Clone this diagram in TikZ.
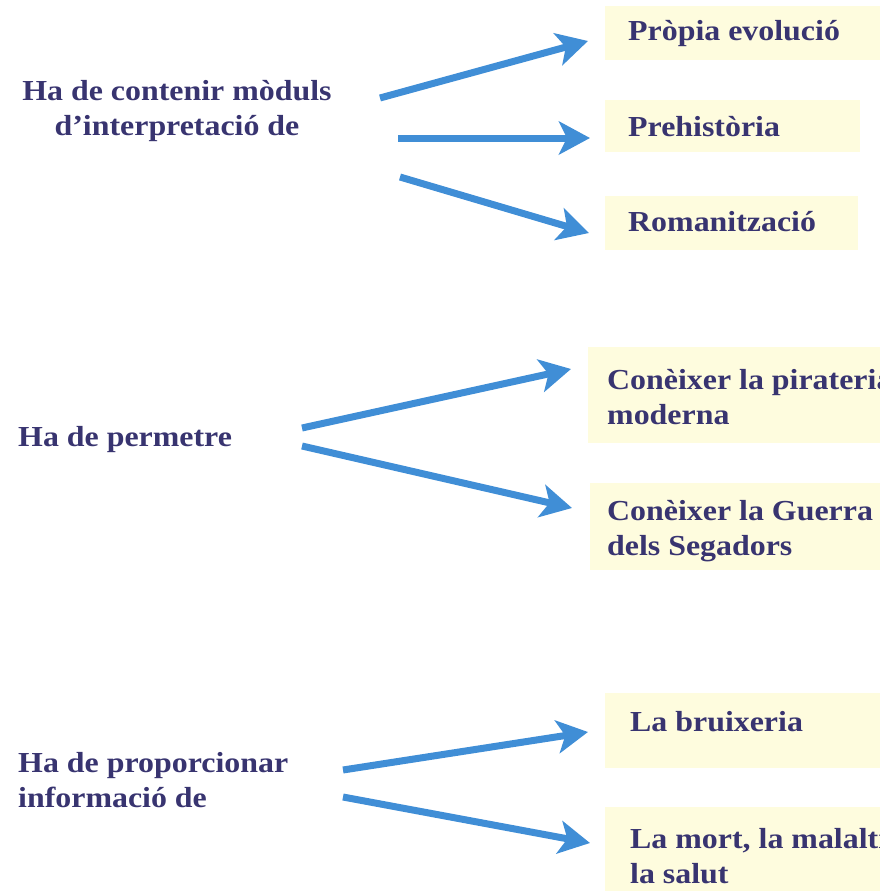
\documentclass[tikz,border=0pt]{standalone}
\usepackage{fontspec}
\setmainfont{Liberation Serif}[FakeStretch=1.1]
\usetikzlibrary{arrows.meta}
\definecolor{textblue}{RGB}{56,52,112}
\definecolor{arrowblue}{RGB}{64,142,214}
\definecolor{boxyellow}{RGB}{254,252,222}
\begin{document}
\begin{tikzpicture}[x=1pt,y=-1pt,
  ybox/.style={fill=boxyellow, draw=none},
  lbl/.style={text=textblue, font=\bfseries\fontsize{29}{35}\selectfont, inner sep=0pt, anchor=base west, align=left},
  clbl/.style={lbl, anchor=base, align=center},
  arr/.style={draw=arrowblue, line width=7pt, -{Stealth[length=31pt,width=33pt,inset=8pt]}}]
\useasboundingbox (0,0) rectangle (880,891);
\clip (0,0) rectangle (880,891);
% yellow boxes
\fill[ybox] (605,6) rectangle (880,60);
\fill[ybox] (605,100) rectangle (860,152);
\fill[ybox] (605,196) rectangle (858,250);
\fill[ybox] (588,347) rectangle (880,443);
\fill[ybox] (590,483) rectangle (880,570);
\fill[ybox] (605,693) rectangle (880,768);
\fill[ybox] (605,807) rectangle (880,891);
% texts (base anchor = baseline of the last line)
\node[clbl] (g1) at (177,135) {Ha de contenir mòduls\\d’interpretació de};
\node[lbl] (r1) at (628,41) {Pròpia evolució};
\node[lbl] (r2) at (628,136) {Prehistòria};
\node[lbl] (r3) at (628,231) {Romanització};
\node[lbl] (g2) at (18,446) {Ha de permetre};
\node[lbl] (r4) at (607,424) {Conèixer la pirateria\\moderna};
\node[lbl] (r5) at (607,555) {Conèixer la Guerra\\dels Segadors};
\node[lbl] (g3) at (18,807) {Ha de proporcionar\\informació de};
\node[lbl] (r6) at (630,731) {La bruixeria};
\node[lbl] (r7) at (630,883) {La mort, la malaltia i\\la salut};
% arrow ends
\coordinate (s1) at (380,98);  \coordinate (e1) at (588,41);
\coordinate (s2) at (398,138); \coordinate (e2) at (590,138);
\coordinate (s3) at (400,177); \coordinate (e3) at (589,233);
\coordinate (s4) at (302,428); \coordinate (e4) at (571,369);
\coordinate (s5) at (302,446); \coordinate (e5) at (572,508);
\coordinate (s6) at (343,770); \coordinate (e6) at (588,732);
\coordinate (s7) at (343,797); \coordinate (e7) at (590,843);
\draw[arr] (s1) -- (e1);
\draw[arr] (s2) -- (e2);
\draw[arr] (s3) -- (e3);
\draw[arr] (s4) -- (e4);
\draw[arr] (s5) -- (e5);
\draw[arr] (s6) -- (e6);
\draw[arr] (s7) -- (e7);
\end{tikzpicture}
\end{document}
